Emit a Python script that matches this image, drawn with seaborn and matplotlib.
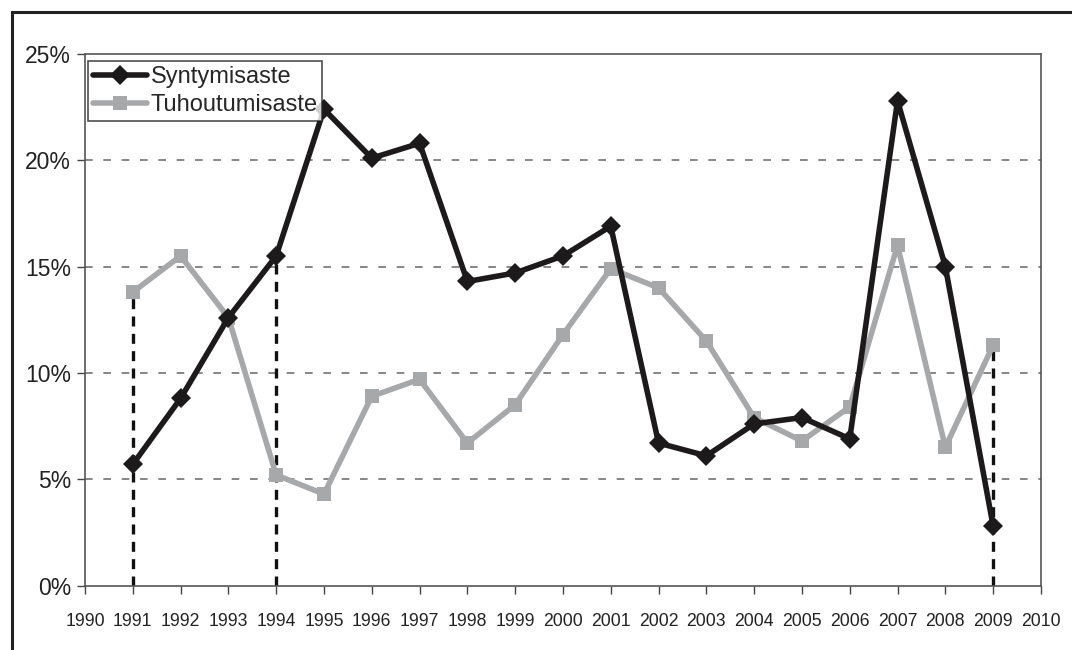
import pandas as pd
import numpy as np
import matplotlib
matplotlib.use("Agg")
import matplotlib.pyplot as plt
import seaborn as sns
from matplotlib.patches import Rectangle

years = list(range(1991, 2010))
syntymisaste = [5.7, 8.8, 12.6, 15.5, 22.4, 20.1, 20.8, 14.3, 14.7, 15.5,
                16.9, 6.7, 6.1, 7.6, 7.9, 6.9, 22.8, 15.0, 2.8]
tuhoutumisaste = [13.8, 15.5, 12.6, 5.2, 4.3, 8.9, 9.7, 6.7, 8.5, 11.8,
                  14.9, 14.0, 11.5, 7.9, 6.8, 8.4, 16.0, 6.5, 11.3]
drop_years = [1991, 1994, 2009]
xticks = list(range(1990, 2011))
yticks = [0, 5, 10, 15, 20, 25]

df = pd.DataFrame({"vuosi": years, "Syntymisaste": syntymisaste,
                   "Tuhoutumisaste": tuhoutumisaste})

sns.set_style("white")
plt.rcParams['font.family'] = ['Liberation Sans', 'DejaVu Sans']

fig = plt.figure(figsize=(10.72, 6.5), dpi=100)
ax = fig.add_axes([0.0793, 0.0992, 0.8917, 0.8178])

# outer frame of the figure (goes past right/bottom edge)
fig.add_artist(Rectangle((12 / 1072, -0.1), 1.2, (650 - 12) / 650 + 0.1,
                         transform=fig.transFigure, fill=False,
                         edgecolor='#222222', linewidth=2.2, zorder=0))

for yv in yticks[1:-1]:
    ax.axhline(yv, color='#666666', lw=1.1, linestyle=(0, (5, 7)), zorder=1)

# drop lines from the higher of the two series
heights = [max(df.loc[df.vuosi == y, ["Syntymisaste", "Tuhoutumisaste"]].values[0])
           for y in drop_years]
ax.vlines(drop_years, 0, heights, colors='#111111', lw=2.4,
          linestyles=[(0, (3, 2.2))], zorder=2)

sns.lineplot(data=df, x="vuosi", y="Tuhoutumisaste", ax=ax, color='#a7a8aa',
             lw=4, marker='s', markersize=9.5, markeredgewidth=0,
             label="Tuhoutumisaste", zorder=3)
sns.lineplot(data=df, x="vuosi", y="Syntymisaste", ax=ax, color='#1c1a1a',
             lw=4, marker='D', markersize=10, markeredgewidth=0,
             label="Syntymisaste", zorder=4)

ax.set_xlim(1990, 2010)
ax.set_ylim(0, 25)
ax.set_xticks(xticks)
ax.set_xticklabels([str(x) for x in xticks], fontsize=12.7, color='#222222')
ax.set_yticks(yticks)
ax.set_yticklabels(['%d%%' % v for v in yticks], fontsize=16.5, color='#222222')
ax.tick_params(axis='x', direction='out', length=6, width=1, color='#444444', pad=14, bottom=True)
ax.tick_params(axis='y', direction='out', length=6, width=1, color='#444444', pad=4, left=True)
ax.set_xlabel("")
ax.set_ylabel("")
for s in ax.spines.values():
    s.set_color('#555555')
    s.set_linewidth(1.2)
    s.set_visible(True)

handles, labels = ax.get_legend_handles_labels()
order = [labels.index("Syntymisaste"), labels.index("Tuhoutumisaste")]
leg = ax.legend([handles[i] for i in order], [labels[i] for i in order],
                loc='upper left', bbox_to_anchor=(0.003, 0.986), fontsize=17,
                frameon=True, fancybox=False, edgecolor='#222222',
                handlelength=2.3, handletextpad=0.15, borderpad=0.2,
                labelspacing=0.25, borderaxespad=0)
leg.get_frame().set_linewidth(1.2)

fig.savefig("out.png", dpi=100)
